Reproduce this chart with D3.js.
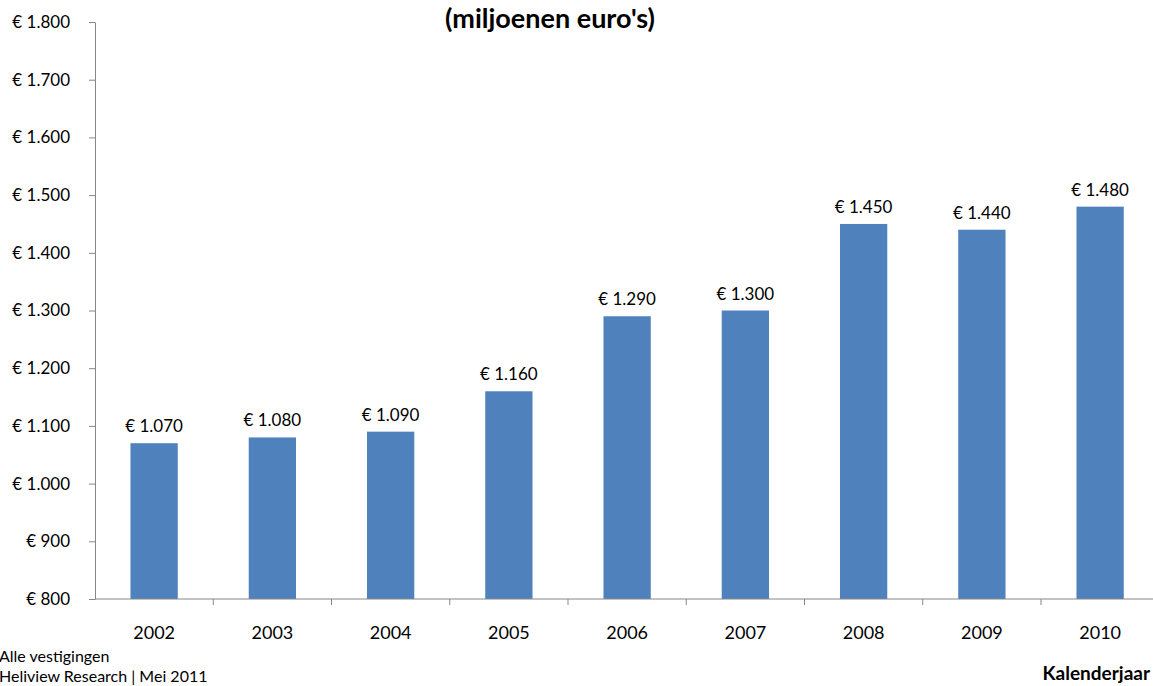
<!DOCTYPE html>
<html>
<head>
<meta charset="utf-8">
<script src="https://cdn.jsdelivr.net/npm/d3@7"></script>
<style>
  body { margin: 0; background: #fff; overflow: hidden; }
  svg { font-family: Lato, "Open Sans", sans-serif; }
</style>
</head>
<body>
<div id="chart"></div>
<script>
// chart data
const years = ["2002", "2003", "2004", "2005", "2006", "2007", "2008", "2009", "2010"]
const omzet = [1070, 1080, 1090, 1160, 1290, 1300, 1450, 1440, 1480]
const yTicks = [800, 900, 1000, 1100, 1200, 1300, 1400, 1500, 1600, 1700, 1800]

let width = 1153,
    height = 686

let margin = { top: 22, left: 95, bottom: 87 }
let bandWidth = 118.25

let svg = d3.select('#chart')
    .append('svg')
    .attr("width", width)
    .attr("height", height)

let fmt = d3.formatLocale({ decimal: ",", thousands: ".", grouping: [3], currency: ["€ ", ""] }).format(",d")
let euro = v => "€ " + fmt(v)

let x = d3.scaleBand()
    .domain(years)
    .range([margin.left, margin.left + bandWidth * years.length])
    .paddingInner(0.6)
    .paddingOuter(0.3)

let y = d3.scaleLinear()
    .domain([800, 1800])
    .range([height - margin.bottom, margin.top])

// title
svg.append("text")
    .attr("x", 550)
    .attr("y", 28)
    .attr("text-anchor", "middle")
    .attr("font-weight", "bold")
    .attr("font-size", 27)
    .text("(miljoenen euro's)")

// bars
svg.selectAll(".bar")
    .data(omzet)
    .enter().append("rect")
    .attr("class", "bar")
    .attr("x", (d, i) => x(years[i]))
    .attr("width", x.bandwidth())
    .attr("y", d => y(d))
    .attr("height", d => y(800) - y(d))
    .attr("fill", "#4F81BD")

// value labels
svg.selectAll(".val")
    .data(omzet)
    .enter().append("text")
    .attr("class", "val")
    .attr("x", (d, i) => x(years[i]) + x.bandwidth() / 2)
    .attr("y", d => y(d) - 11)
    .attr("text-anchor", "middle")
    .attr("font-size", 17)
    .text(d => euro(d))

// y axis
let yAxis = svg.append("g")
    .attr("transform", `translate(${margin.left},0)`)
    .call(d3.axisLeft(y).tickValues(yTicks).tickFormat(euro).tickSize(6).tickSizeOuter(0).tickPadding(19))
yAxis.select(".domain").attr("stroke", "#868686")
yAxis.selectAll(".tick line").attr("stroke", "#868686")
yAxis.selectAll(".tick text").attr("font-size", 17).attr("fill", "#000").attr("font-family", "Lato, sans-serif")

// x axis
let xAxis = svg.append("g")
    .attr("transform", `translate(0,${y(800)})`)
    .call(d3.axisBottom(x).tickSize(0).tickPadding(27))
xAxis.select(".domain").attr("stroke", "#868686").attr("d", `M${margin.left},0H${width}`)
xAxis.selectAll(".tick text").attr("font-size", 18).attr("fill", "#000").attr("font-family", "Lato, sans-serif")

// category boundary ticks
svg.append("g")
    .selectAll("line")
    .data(years)
    .enter().append("line")
    .attr("x1", d => x(d) + x.bandwidth() + x.step() * x.paddingInner() / 2)
    .attr("x2", d => x(d) + x.bandwidth() + x.step() * x.paddingInner() / 2)
    .attr("y1", y(800))
    .attr("y2", y(800) + 6)
    .attr("stroke", "#868686")

// footer texts
svg.append("text").attr("x", -1).attr("y", 662).attr("font-size", 16).text("Alle vestigingen")
svg.append("text").attr("x", -1).attr("y", 682).attr("font-size", 16).text("Heliview Research | Mei 2011")
svg.append("text").attr("x", 1150).attr("y", 680).attr("text-anchor", "end")
    .attr("font-size", 19).attr("font-weight", "bold").text("Kalenderjaar")
</script>
</body>
</html>
